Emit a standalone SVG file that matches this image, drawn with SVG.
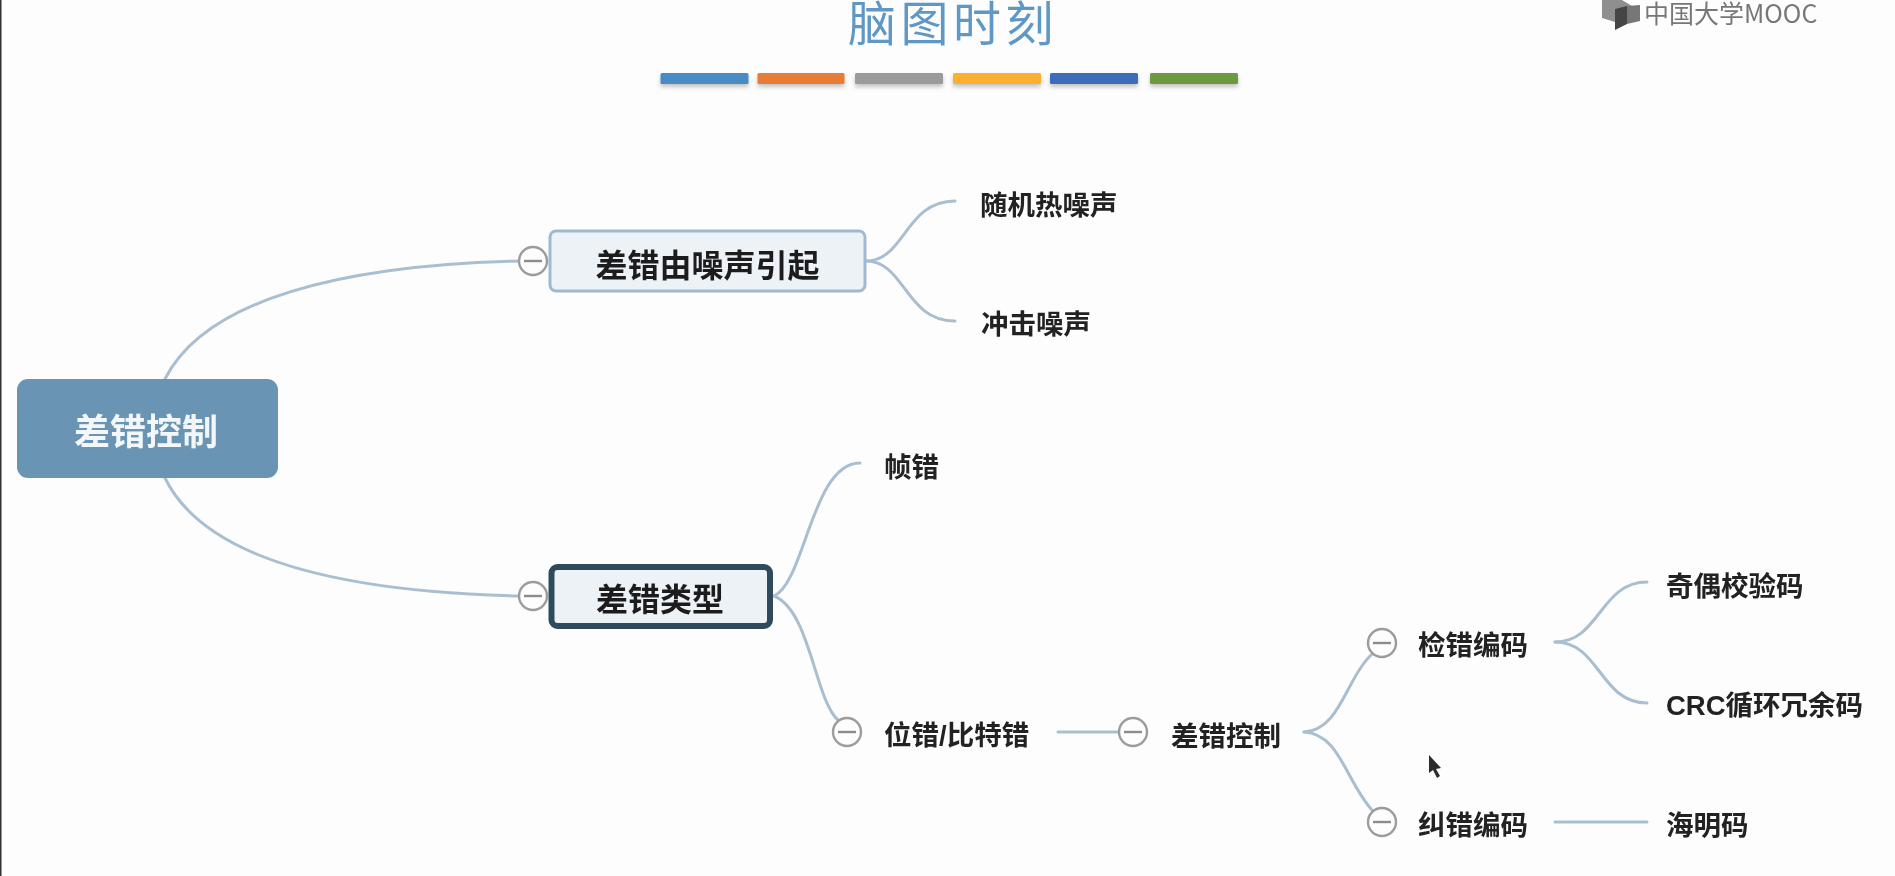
<svg xmlns="http://www.w3.org/2000/svg" width="1895" height="876" viewBox="0 0 1895 876">
<style>
.cjk{font-family:"Noto Sans CJK SC","Liberation Sans",sans-serif}
.t{font-family:"Liberation Sans","Noto Sans CJK SC",sans-serif;font-size:27.5px;font-weight:700;fill:#222;dominant-baseline:central}
.big{font-size:32px;text-anchor:middle;fill:#1c1c1c}
.c{fill:none;stroke:#a9bfd1;stroke-width:3;stroke-linecap:round}
.ring{fill:#fdfdfd;stroke:#9c9c9c;stroke-width:2.4}
.minus{stroke:#8c8c8c;stroke-width:2.4}
</style>
<defs>
<filter id="soft" x="-10%" y="-30%" width="120%" height="160%"><feGaussianBlur stdDeviation="0.55"/></filter>
<filter id="bar" x="-10%" y="-50%" width="120%" height="240%"><feDropShadow dx="0" dy="3" stdDeviation="2.2" flood-color="#888" flood-opacity="0.5"/></filter>
<g id="toggle"><circle r="14" class="ring"/><line x1="-9" x2="9" class="minus"/></g>
</defs>
<rect width="1895" height="876" fill="#fdfdfd"/>
<rect x="0" y="0" width="1.5" height="876" fill="#333"/>

<g id="title">
<text x="953" y="41" class="cjk" font-size="48" letter-spacing="4.5" text-anchor="middle" fill="#5f98c6" filter="url(#soft)">脑图时刻</text>
<rect x="660.5" y="73" width="88" height="11" rx="1.5" fill="#4a8bc4" filter="url(#bar)"/>
<rect x="757.5" y="73" width="87" height="11" rx="1.5" fill="#e67b35" filter="url(#bar)"/>
<rect x="855" y="73" width="88" height="11" rx="1.5" fill="#9b9b9b" filter="url(#bar)"/>
<rect x="953" y="73" width="88" height="11" rx="1.5" fill="#fbb030" filter="url(#bar)"/>
<rect x="1050" y="73" width="88" height="11" rx="1.5" fill="#3d6db8" filter="url(#bar)"/>
<rect x="1150" y="73" width="88" height="11" rx="1.5" fill="#6d9a3f" filter="url(#bar)"/>
</g>

<g id="logo">
<polygon points="1602,0 1622,0 1632,6 1632,22 1615,22 1602,18" fill="#8f8f8f"/>
<polygon points="1627,6 1640,5 1640,21 1627,24" fill="#777"/>
<polygon points="1615,9 1627,6 1627,24 1615,30" fill="#454545"/>
<text x="1644" y="23" class="cjk" font-size="25" fill="#777" filter="url(#soft)">中国大学MOOC</text>
</g>

<g id="connectors">
<path class="c" d="M165 379C205 300 340 265 520 261"/>
<path class="c" d="M165 478C205 560 340 592 520 596"/>
<path class="c" d="M866 261C905 261 905 201 955 201"/>
<path class="c" d="M866 261C905 261 905 321 955 321"/>
<path class="c" d="M774 596C805 582 812 463 860 463"/>
<path class="c" d="M774 596C810 610 815 700 838 720"/>
<path class="c" d="M1058 732H1120"/>
<path class="c" d="M1304 732C1340 730 1345 680 1372 654"/>
<path class="c" d="M1304 732C1340 734 1345 780 1372 810"/>
<path class="c" d="M1555 642C1600 642 1600 582 1647 582"/>
<path class="c" d="M1555 642C1600 642 1600 703 1647 703"/>
<path class="c" d="M1555 822H1647"/>
</g>

<g id="root">
<rect x="17" y="379" width="261" height="99" rx="11" fill="#6a94b3"/>
<text x="146" y="432" class="t" style="font-size:36px;text-anchor:middle;fill:#f4f7fa" filter="url(#soft)">差错控制</text>
</g>
<g id="n-noise">
<rect x="550" y="231" width="315" height="60" rx="6" fill="#edf2f7" stroke="#9fbad0" stroke-width="3"/>
<text x="707.5" y="266" class="t big" filter="url(#soft)">差错由噪声引起</text>
<use href="#toggle" x="533" y="261"/>
</g>
<g id="n-type">
<rect x="551.5" y="567" width="218.5" height="59" rx="6" fill="#edf2f7" stroke="#2f4a5c" stroke-width="6"/>
<text x="660" y="600" class="t big" filter="url(#soft)">差错类型</text>
<use href="#toggle" x="533" y="596"/>
</g>
<g id="n-random"><text x="980" y="205" class="t" filter="url(#soft)">随机热噪声</text></g>
<g id="n-impulse"><text x="981" y="324" class="t" filter="url(#soft)">冲击噪声</text></g>
<g id="n-frame"><text x="884" y="467" class="t" filter="url(#soft)">帧错</text></g>
<g id="n-bit"><text x="884" y="735" class="t" filter="url(#soft)">位错/比特错</text><use href="#toggle" x="847" y="732"/></g>
<g id="n-control"><text x="1171" y="736" class="t" filter="url(#soft)">差错控制</text><use href="#toggle" x="1133" y="732"/></g>
<g id="n-detect"><text x="1418" y="645" class="t" filter="url(#soft)">检错编码</text><use href="#toggle" x="1382" y="643"/></g>
<g id="n-correct"><text x="1418" y="825" class="t" filter="url(#soft)">纠错编码</text><use href="#toggle" x="1382" y="822"/></g>
<g id="n-parity"><text x="1666" y="586" class="t" filter="url(#soft)">奇偶校验码</text></g>
<g id="n-crc"><text x="1666" y="705" class="t" filter="url(#soft)">CRC循环冗余码</text></g>
<g id="n-hamming"><text x="1666" y="825" class="t" filter="url(#soft)">海明码</text></g>
<polygon id="cursor" points="1429,755 1429,773 1433,770 1437,778 1440,776 1436,769 1441,768" fill="#2c2c2c"/>
</svg>
